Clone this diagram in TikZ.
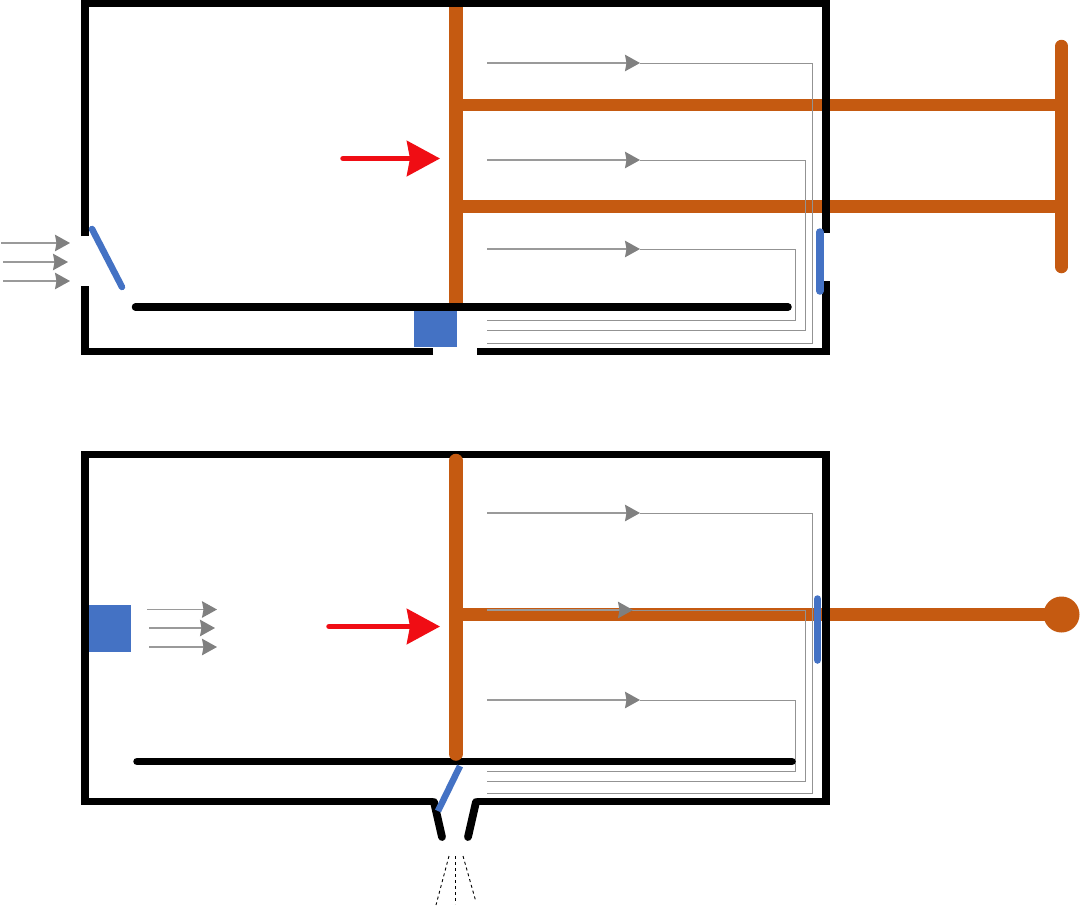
\documentclass[tikz,border=0pt]{standalone}
\usetikzlibrary{arrows.meta}
\definecolor{rodorange}{HTML}{C55A11}
\definecolor{flapblue}{HTML}{4472C4}
\definecolor{flowgray}{HTML}{808080}
\definecolor{pushred}{HTML}{F00D14}
\tikzset{
  wall/.style={line width=7.8pt,black},
  bar/.style={line width=7.5pt,black,line cap=round},
  rod/.style={line width=12.5pt,rodorange},
  flap/.style={line width=6.5pt,flapblue},
  flow/.style={line width=0.9pt,flowgray!85!white},
  inflow/.style={line width=1.2pt,flowgray!80!white,-{Stealth[length=15pt,width=16.5pt,inset=1.5pt,flowgray]}},
  push/.style={line width=5.5pt,pushred,line cap=round,-{Stealth[length=33pt,width=35pt,inset=3pt]}}
}
\begin{document}
\begin{tikzpicture}[x=1pt,y=-1pt]
\useasboundingbox (0,0) rectangle (1080,906);
\fill[white] (0,0) rectangle (1080,906);
\draw[rod,line width=13.5pt] (455.8,4) -- (455.8,304);
\draw[rod] (455.8,105) -- (1061.5,105);
\draw[rod] (455.8,206.5) -- (1061.5,206.5);
\draw[rod,line cap=round] (1061.5,46) -- (1061.5,267);
\draw[flow] (640,63) -- (812.5,63) -- (812.5,343) -- (487,343);
\draw[flow] (640,160) -- (805.5,160) -- (805.5,330) -- (487,330);
\draw[flow] (640,249) -- (795.5,249) -- (795.5,320) -- (487,320);
\draw[inflow] (487,63) -- (640,63);
\draw[inflow] (487,160) -- (640,160);
\draw[inflow] (487,249) -- (640,249);
\draw[wall] (85.3,236) -- (85.3,3.5) -- (826,3.5) -- (826,233);
\draw[wall] (826,281) -- (826,351.5) -- (477,351.5);
\draw[wall] (433,351.5) -- (85.3,351.5) -- (85.3,286);
\draw[bar] (135.5,307) -- (788,307);
\fill[flapblue] (413.5,311) rectangle (457,347);
\draw[flap,line cap=round] (92,229) -- (122,287);
\draw[flap,line width=7.5pt,line cap=round] (820,232) -- (820,291);
\draw[inflow] (1,243) -- (70,243);
\draw[inflow] (3,262) -- (68,262);
\draw[inflow] (3,281) -- (70,281);
\draw[push] (343,158.5) -- (440,158.5);
\draw[rod] (455.8,614.5) -- (1061.5,614.5);
\fill[rodorange] (1061.5,614.5) circle (18);
\draw[flow] (640,513) -- (812,513) -- (812,793) -- (487,793);
\draw[flow] (632,610) -- (805,610) -- (805,781) -- (487,781);
\draw[flow] (640,700) -- (795,700) -- (795,771) -- (487,771);
\draw[inflow] (487,513) -- (640,513);
\draw[inflow] (487,610) -- (633,610);
\draw[inflow] (487,700) -- (640,700);
\draw[wall] (433,801.5) -- (85.3,801.5) -- (85.3,454.5) -- (826,454.5) -- (826,801.5) -- (477,801.5);
\draw[wall,line cap=round] (434,802) -- (442,837);
\draw[wall,line cap=round] (476,802) -- (468,837);
\draw[bar] (137,761.5) -- (792,761.5);
\draw[flap] (460,766) -- (438,811);
\draw[rod,line width=13.5pt,line cap=round] (455.8,460.5) -- (455.8,754);
\draw[flap,line width=7.5pt,line cap=round] (817.5,599) -- (817.5,660);
\fill[flapblue] (89,604.5) rectangle (131,652);
\draw[inflow] (147,609.5) -- (217,609.5);
\draw[inflow] (149,628) -- (215,628);
\draw[inflow] (149,647) -- (217,647);
\draw[push] (329,626.5) -- (440,626.5);
\draw[dashed,line width=0.9pt] (449,856) -- (436,905);
\draw[dashed,line width=0.9pt] (455.5,856) -- (455.5,904);
\draw[dashed,line width=0.9pt] (463,856) -- (476,902);
\end{tikzpicture}
\end{document}
